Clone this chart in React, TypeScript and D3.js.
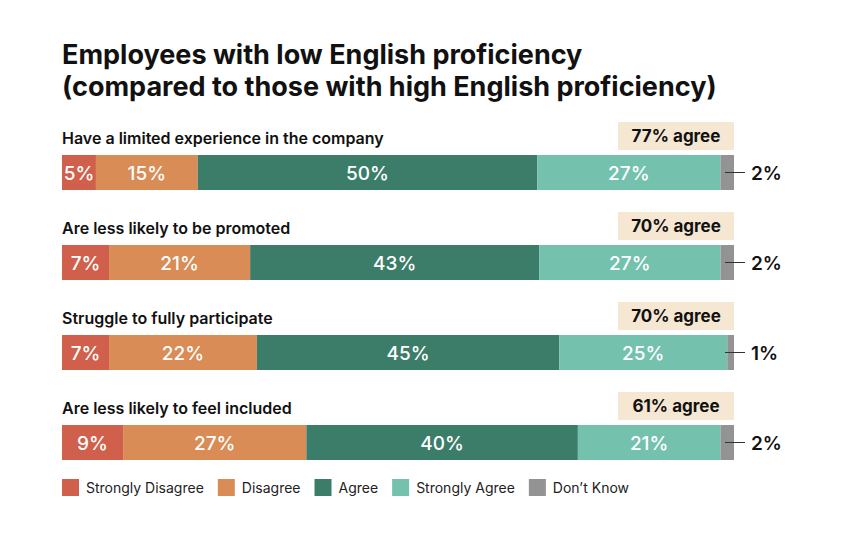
import { useRef, useEffect } from "react";
import * as d3 from "d3";

const questions = [
  "Have a limited experience in the company",
  "Are less likely to be promoted",
  "Struggle to fully participate",
  "Are less likely to feel included",
];
const categories = ["Strongly Disagree", "Disagree", "Agree", "Strongly Agree", "Don\u2019t Know"];
const stronglyDisagree = [5, 7, 7, 9];
const disagree = [15, 21, 22, 27];
const agree = [50, 43, 45, 40];
const stronglyAgree = [27, 27, 25, 21];
const dontKnow = [2, 2, 1, 2];
const agreeTotals = [77, 70, 70, 61];
const COLORS = ["#d0604b", "#d98c55", "#3b7d69", "#74c2ae", "#939393"];

export default function App() {
  const svgRef = useRef<SVGSVGElement>(null);

  useEffect(() => {
    if (!svgRef.current) return;
    const svg = d3.select(svgRef.current);
    svg.selectAll("*").remove();

    const width = 842;
    const height = 540;
    const font = "Inter, 'Noto Sans', sans-serif";
    svg.attr("width", width).attr("height", height).style("font-family", font);

    const series = [stronglyDisagree, disagree, agree, stronglyAgree, dontKnow];
    const rows = questions.map((q, i) => {
      const vals = series.map((s) => s[i]);
      let acc = 0;
      const segs = vals.map((v, k) => {
        const s = { k, v, x0: acc, x1: acc + v };
        acc += v;
        return s;
      });
      return { q, segs, total: acc, agreeTotal: agreeTotals[i] };
    });

    const left = 62;
    const right = 734;
    const barH = 35;
    const y = d3
      .scaleBand<number>()
      .domain(d3.range(rows.length))
      .range([155, 155 + 90 * rows.length])
      .paddingInner(0);

    // Title
    const title = svg.append("text").attr("x", left).attr("y", 64)
      .style("font-size", "27px").style("font-weight", 700).style("fill", "#111");
    title.append("tspan").attr("x", left).text("Employees with low English proficiency");
    title.append("tspan").attr("x", left).attr("dy", 32).text("(compared to those with high English proficiency)");

    rows.forEach((r, i) => {
      const g = svg.append("g").attr("transform", `translate(0,${y(i)})`);
      const x = d3.scaleLinear().domain([0, r.total]).range([left, right]);

      g.append("text").attr("x", left).attr("y", -11)
        .style("font-size", "16px").style("font-weight", 600).style("fill", "#111")
        .text(r.q);

      // agree box
      g.append("rect").attr("x", 618).attr("y", -33).attr("width", right - 618).attr("height", 28)
        .attr("fill", "#f6e7d3");
      g.append("text").attr("x", (618 + right) / 2).attr("y", -13)
        .attr("text-anchor", "middle")
        .style("font-size", "17px").style("font-weight", 700).style("fill", "#111")
        .text(`${r.agreeTotal}% agree`);

      g.selectAll("rect.seg").data(r.segs).join("rect")
        .attr("class", "seg")
        .attr("x", (d) => x(d.x0))
        .attr("y", 0)
        .attr("width", (d) => x(d.x1) - x(d.x0))
        .attr("height", barH)
        .attr("fill", (d) => COLORS[d.k]);

      g.selectAll("text.lbl").data(r.segs.filter((d) => d.k < 4)).join("text")
        .attr("class", "lbl")
        .attr("x", (d) => (x(d.x0) + x(d.x1)) / 2)
        .attr("y", barH / 2 + 7)
        .attr("text-anchor", "middle")
        .style("font-size", "19px").style("font-weight", 500).style("fill", "#fff")
        .text((d) => `${d.v}%`);

      const dk = r.segs[4];
      g.append("line").attr("x1", right - 9).attr("x2", 745)
        .attr("y1", barH / 2).attr("y2", barH / 2)
        .attr("stroke", "#333").attr("stroke-width", 1);
      g.append("text").attr("x", 751).attr("y", barH / 2 + 7)
        .style("font-size", "19px").style("font-weight", 600).style("fill", "#111")
        .text(`${dk.v}%`);
    });

    // Legend
    const leg = svg.append("g").attr("transform", `translate(${left},479)`);
    let lx = 0;
    categories.forEach((c, k) => {
      leg.append("rect").attr("x", lx).attr("y", 0).attr("width", 17).attr("height", 17).attr("fill", COLORS[k]);
      const t = leg.append("text").attr("x", lx + 24).attr("y", 14)
        .style("font-size", "14px").style("fill", "#222").text(c);
      const w = (t.node() as SVGTextElement).getComputedTextLength();
      lx += 24 + w + 14;
    });

    return () => {
      svg.selectAll("*").remove();
    };
  }, []);

  return (
    <div style={{ margin: -8, background: "#fff", width: 842, height: 540 }}>
      <svg ref={svgRef} style={{ display: "block" }} />
    </div>
  );
}
